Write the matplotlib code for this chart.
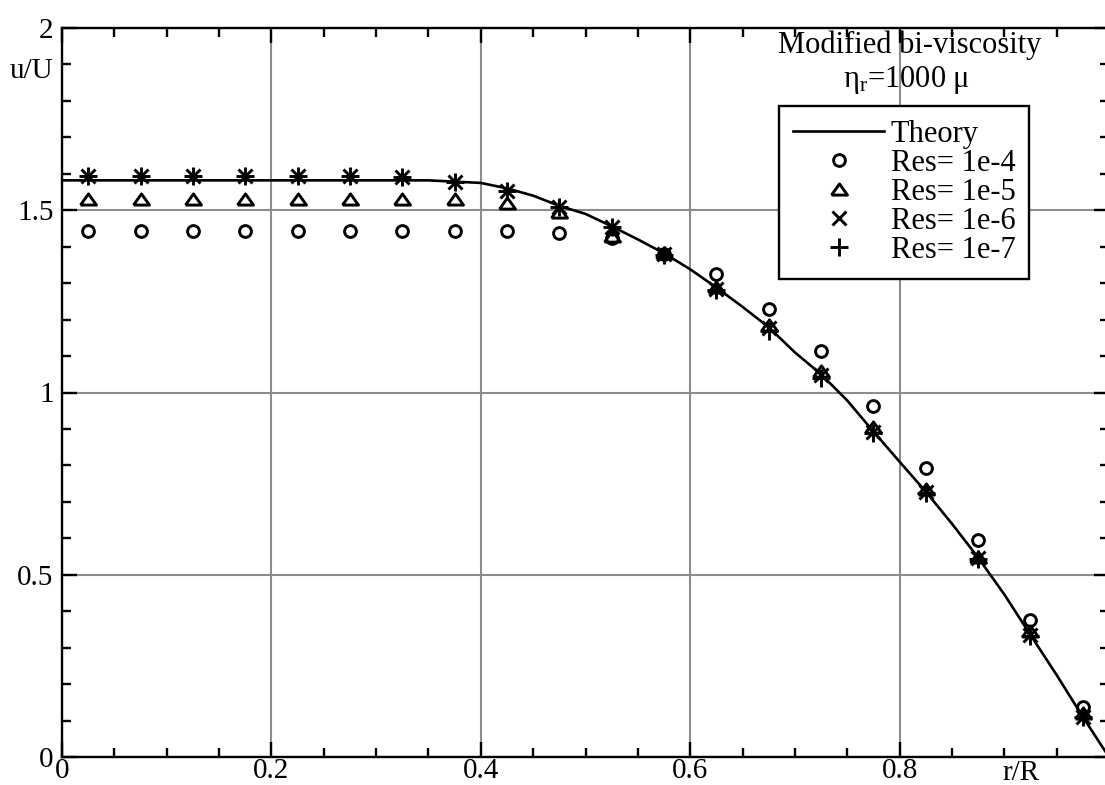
import numpy as np
import matplotlib
matplotlib.use("Agg")
import matplotlib.pyplot as plt
from matplotlib.ticker import MultipleLocator, FixedLocator, FixedFormatter

plt.rcParams["font.family"] = ["Liberation Serif", "DejaVu Serif"]
plt.rcParams["mathtext.fontset"] = "custom"
plt.rcParams["mathtext.rm"] = "Liberation Serif"
plt.rcParams["mathtext.it"] = "Liberation Serif:italic"

# theory curve
r_theory = [0.0, 0.35, 0.4, 0.425, 0.45, 0.475, 0.5, 0.525, 0.55, 0.575, 0.6, 0.625,
            0.65, 0.675, 0.7, 0.725, 0.75, 0.775, 0.8, 0.825, 0.85, 0.875, 0.9,
            0.925, 0.95, 0.975, 1.0]
u_theory = [1.582, 1.582, 1.575, 1.56, 1.54, 1.512, 1.49, 1.456, 1.42, 1.382, 1.338,
            1.288, 1.235, 1.179, 1.11, 1.05, 0.978, 0.893, 0.81, 0.728, 0.64, 0.547,
            0.446, 0.335, 0.225, 0.11, 0.0]

# simulation points
r_sim = [0.025, 0.075, 0.125, 0.175, 0.225, 0.275, 0.325, 0.375, 0.425, 0.475,
         0.525, 0.575, 0.625, 0.675, 0.725, 0.775, 0.825, 0.875, 0.925, 0.975]
u_res4 = [1.442, 1.442, 1.442, 1.442, 1.442, 1.442, 1.442, 1.442, 1.442, 1.437,
          1.423, 1.381, 1.324, 1.228, 1.113, 0.962, 0.794, 0.596, 0.376, 0.137]
u_res5 = [1.53, 1.53, 1.53, 1.53, 1.53, 1.53, 1.53, 1.53, 1.52, 1.495,
          1.43, 1.382, 1.29, 1.185, 1.06, 0.905, 0.735, 0.55, 0.345, 0.12]
u_res6 = [1.593, 1.593, 1.593, 1.593, 1.593, 1.593, 1.59, 1.577, 1.552, 1.51,
          1.453, 1.38, 1.285, 1.178, 1.049, 0.893, 0.728, 0.547, 0.335, 0.11]
u_res7 = [1.593, 1.593, 1.593, 1.593, 1.593, 1.593, 1.59, 1.577, 1.552, 1.51,
          1.453, 1.378, 1.28, 1.17, 1.04, 0.888, 0.725, 0.544, 0.333, 0.11]

xtick_vals = [0, 0.2, 0.4, 0.6, 0.8, 1.0]
xtick_labels = ["0", "0.2", "0.4", "0.6", "0.8", ""]
ytick_vals = [0, 0.5, 1, 1.5, 2]
ytick_labels = ["0", "0.5", "1", "1.5", "2"]

W, H = 1105, 785
fig = plt.figure(figsize=(W / 100, H / 100), dpi=100)
ax = fig.add_axes([62 / W, 28 / H, 1047 / W, 729 / H])

ax.plot(r_theory, u_theory, color="black", lw=1.9, label="Theory", zorder=3)

tri = [(-1, -0.7), (1, -0.7), (0, 0.7), (-1, -0.7)]
mk = dict(ls="none", color="black", mfc="none", mew=2.1, zorder=4)
ax.plot(r_sim, u_res4, marker="o", ms=8.5, label="Res= 1e-4", **mk)
ax.plot(r_sim, u_res5, marker=tri, ms=11.5, label="Res= 1e-5", **mk)
ax.plot(r_sim, u_res6, marker="x", ms=9.5, label="Res= 1e-6", **mk)
ax.plot(r_sim, u_res7, marker="+", ms=12.5, label="Res= 1e-7", **mk)

ax.set_xlim(0, 1)
ax.set_ylim(0, 2)
ax.xaxis.set_major_locator(FixedLocator(xtick_vals))
ax.xaxis.set_major_formatter(FixedFormatter(xtick_labels))
ax.yaxis.set_major_locator(FixedLocator(ytick_vals))
ax.yaxis.set_major_formatter(FixedFormatter(ytick_labels))
ax.xaxis.set_minor_locator(MultipleLocator(0.05))
ax.yaxis.set_minor_locator(MultipleLocator(0.1))

ax.tick_params(which="both", direction="in", top=True, right=True, colors="black")
ax.tick_params(which="major", length=11, width=1.7, labelsize=21)
ax.tick_params(which="minor", length=6.5, width=1.7)
ax.tick_params(axis="x", which="major", pad=1)
ax.tick_params(axis="y", which="major", pad=6)
for s in ax.spines.values():
    s.set_linewidth(1.7)

ax.set_axisbelow(True)
ax.grid(True, which="major", color="#8c8c8c", lw=1.5)

leg = ax.legend(loc="upper left", bbox_to_anchor=(779 / W, 1 - 106 / H),
                bbox_transform=fig.transFigure, borderaxespad=0, fontsize=22,
                frameon=True, fancybox=False, edgecolor="black", framealpha=1,
                handlelength=3.0, handletextpad=0.2, labelspacing=0.0,
                borderpad=0.45)
leg.get_frame().set_linewidth(1.7)

fig.text(910 / W, 1 - 53 / H, "Modified bi-viscosity", ha="center", va="baseline",
         fontsize=22)
fig.text(907 / W, 1 - 87 / H, r"$\mathrm{\eta_r}$=1000 μ", ha="center", va="baseline",
         fontsize=22)
fig.text(53 / W, 1 - 78 / H, "u/U", ha="right", va="baseline", fontsize=21)
fig.text(1021 / W, 1 - 780 / H, "r/R", ha="center", va="baseline", fontsize=21)

fig.savefig("out.png", dpi=100)
